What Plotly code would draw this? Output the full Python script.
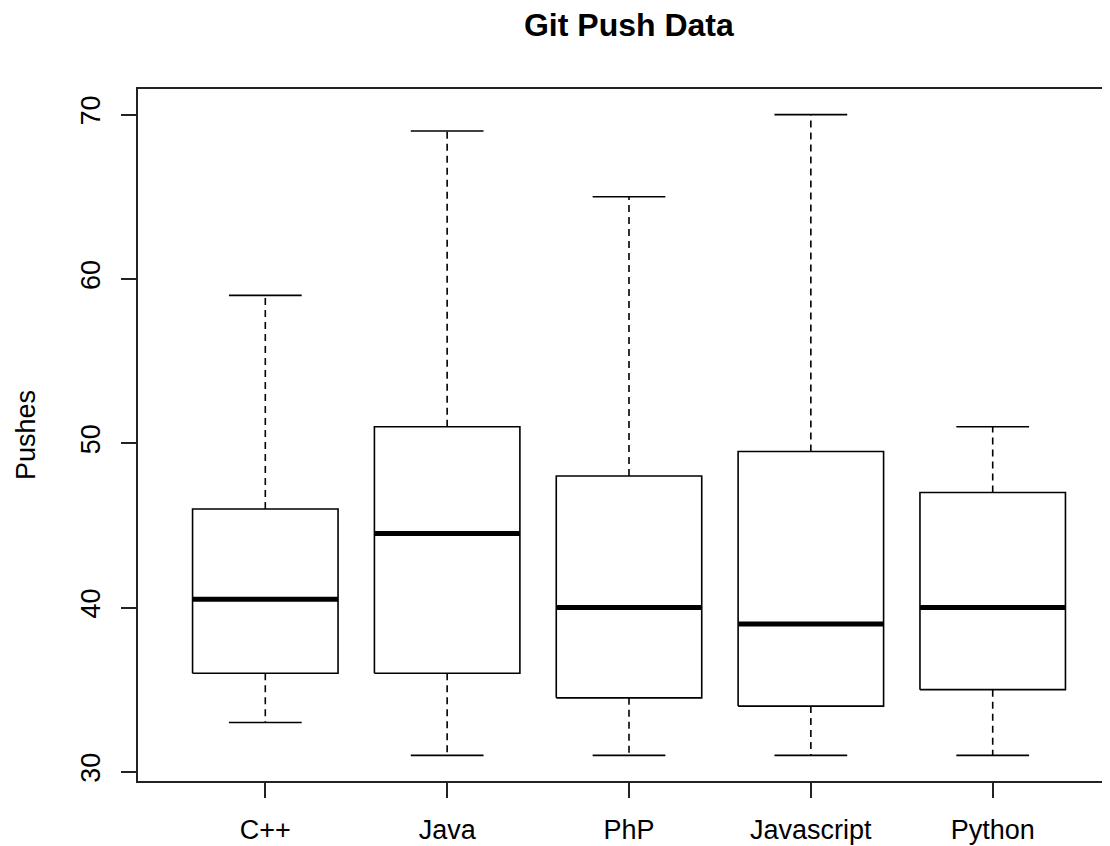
import plotly.graph_objects as go

categories = ["C++", "Java", "PhP", "Javascript", "Python"]
lower = [33, 31, 31, 31, 31]
q1 = [36, 36, 34.5, 34, 35]
median = [40.5, 44.5, 40, 39, 40]
q3 = [46, 51, 48, 49.5, 47]
upper = [59, 69, 65, 70, 51]
y_ticks = [30, 40, 50, 60, 70]

BOX_HALF = 0.4
CAP_HALF = 0.2
FONT = "Liberation Sans, Arial, sans-serif"

pos = list(range(1, len(categories) + 1))

bx, by, mx, my, wx, wy, cx, cy = [], [], [], [], [], [], [], []
for p, lo, a, m, b, hi in zip(pos, lower, q1, median, q3, upper):
    bx += [p - BOX_HALF, p + BOX_HALF, p + BOX_HALF, p - BOX_HALF, p - BOX_HALF, None]
    by += [a, a, b, b, a, None]
    mx += [p - BOX_HALF, p + BOX_HALF, None]
    my += [m, m, None]
    wx += [p, p, None, p, p, None]
    wy += [b, hi, None, a, lo, None]
    cx += [p - CAP_HALF, p + CAP_HALF, None, p - CAP_HALF, p + CAP_HALF, None]
    cy += [hi, hi, None, lo, lo, None]

fig = go.Figure()
fig.add_trace(go.Scatter(x=wx, y=wy, mode="lines", line=dict(color="black", width=1.6, dash="7px,5px"),
                         hoverinfo="skip", showlegend=False))
fig.add_trace(go.Scatter(x=cx, y=cy, mode="lines", line=dict(color="black", width=1.6),
                         hoverinfo="skip", showlegend=False))
fig.add_trace(go.Scatter(x=bx, y=by, mode="lines", line=dict(color="black", width=1.6),
                         hoverinfo="skip", showlegend=False))
fig.add_trace(go.Scatter(x=mx, y=my, mode="lines", line=dict(color="black", width=5),
                         hoverinfo="skip", showlegend=False))

fig.update_layout(
    width=1102, height=838,
    margin=dict(l=130, r=0, t=81, b=65),
    paper_bgcolor="white", plot_bgcolor="white",
    font=dict(family=FONT, size=27, color="black"),
    title=dict(text="<b>Git Push Data</b>", font=dict(size=32, family=FONT, color="black"),
               x=0.505, xref="paper", xanchor="center", y=1 - 17 / 838, yref="container", yanchor="middle"),
    xaxis=dict(range=[0.3, 5.645], tickvals=pos, ticktext=categories, showgrid=False, zeroline=False,
               showline=True, linecolor="#222", linewidth=1.6, mirror=True,
               ticks="outside", ticklen=15, tickcolor="#222", tickwidth=1.6,
               tickfont=dict(size=27, family=FONT, color="black"), ticklabelstandoff=9),
    yaxis=dict(range=[29.44, 71.56], tickvals=y_ticks, showgrid=False, zeroline=False,
               showline=True, linecolor="#222", linewidth=1.6, mirror=False,
               ticks="outside", ticklen=15, tickcolor="#222", tickwidth=1.6, tickangle=-90,
               tickfont=dict(size=27, family=FONT, color="black"), ticklabelstandoff=10,
               title=dict(text="Pushes", font=dict(size=27, family=FONT, color="black"), standoff=33)),
)

fig.write_html("out.html")
